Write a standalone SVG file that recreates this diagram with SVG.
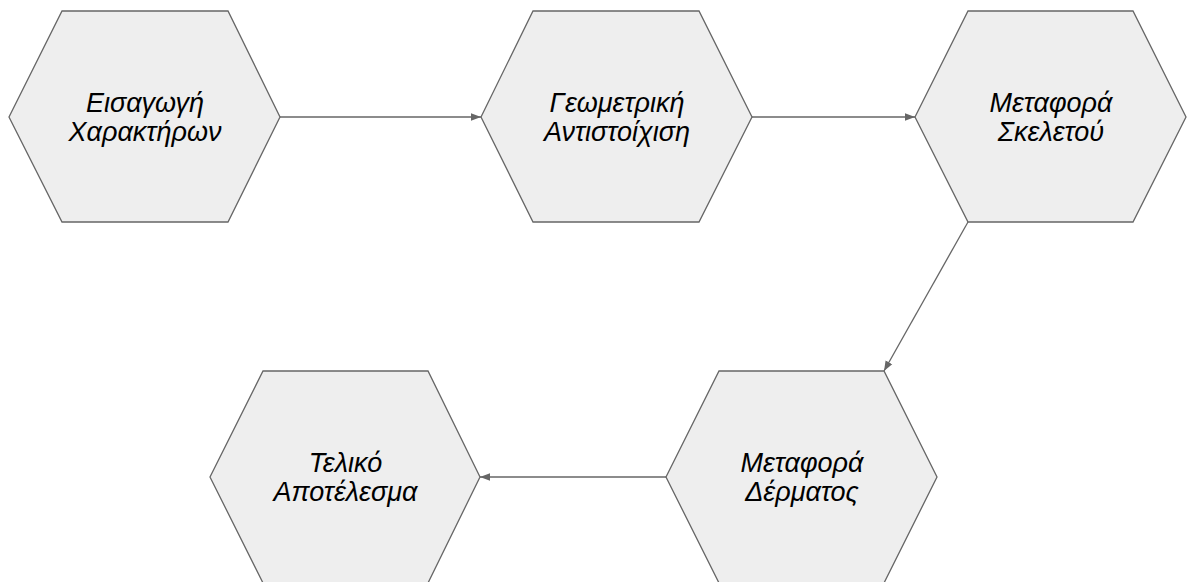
<svg xmlns="http://www.w3.org/2000/svg" width="1187" height="582" viewBox="0 0 1187 582">
<style>
.hex{fill:#eeeeee;stroke:#666666;stroke-width:1.3}
.lbl{font-family:"Liberation Sans",Arial,sans-serif;font-style:italic;font-size:27px;fill:#000;text-anchor:middle}
.con{stroke:#666666;stroke-width:1.3;fill:none;marker-end:url(#ah)}
</style>
<defs>
<marker id="ah" viewBox="0 0 10 10" refX="10" refY="5" markerWidth="10" markerHeight="10" markerUnits="userSpaceOnUse" orient="auto">
<path d="M0,1.2 L10,5 L0,8.8 z" fill="#666666"/>
</marker>
</defs>
<rect width="1187" height="582" fill="#ffffff"/>
<g id="connectors">
<line class="con" x1="280" y1="117" x2="481" y2="117"/>
<line class="con" x1="752" y1="117" x2="915" y2="117"/>
<line class="con" x1="968" y1="222" x2="884" y2="371"/>
<line class="con" x1="666" y1="477" x2="480" y2="477"/>
</g>
<g id="n1">
<polygon class="hex" points="9,117 62,11 228,11 280,117 228,222 62,222"/>
<text class="lbl" x="145" y="112">Εισαγωγή</text>
<text class="lbl" x="145" y="141">Χαρακτήρων</text>
</g>
<g id="n2">
<polygon class="hex" points="481,117 533,11 699,11 752,117 699,222 533,222"/>
<text class="lbl" x="617" y="112">Γεωμετρική</text>
<text class="lbl" x="617" y="141">Αντιστοίχιση</text>
</g>
<g id="n3">
<polygon class="hex" points="915,117 968,11 1133,11 1186,117 1133,222 968,222"/>
<text class="lbl" x="1051" y="112">Μεταφορά</text>
<text class="lbl" x="1051" y="141">Σκελετού</text>
</g>
<g id="n4">
<polygon class="hex" points="666,477 719,371 884,371 937,477 884,583 719,583"/>
<text class="lbl" x="802" y="472">Μεταφορά</text>
<text class="lbl" x="802" y="501">Δέρματος</text>
</g>
<g id="n5">
<polygon class="hex" points="210,477 263,371 428,371 480,477 428,583 263,583"/>
<text class="lbl" x="345.5" y="472">Τελικό</text>
<text class="lbl" x="345.5" y="501">Αποτέλεσμα</text>
</g>
</svg>
